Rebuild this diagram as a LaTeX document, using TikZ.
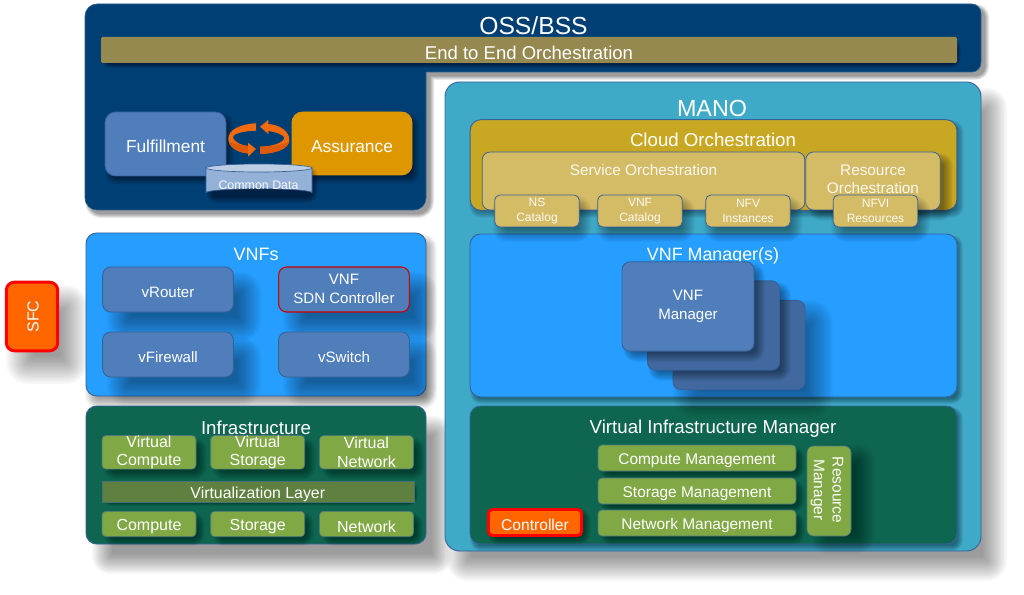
\documentclass[tikz,border=0pt]{standalone}
\usepackage{fontspec}
\setmainfont{Liberation Sans}
\usetikzlibrary{calc}
\definecolor{navy}{HTML}{003F73}
\definecolor{navyedge}{HTML}{2C5F8E}
\definecolor{olivebar}{HTML}{95894F}
\definecolor{steelcard}{HTML}{4F7EBB}
\definecolor{steeledge}{HTML}{38629A}
\definecolor{steelback}{HTML}{41699F}
\definecolor{amberbox}{HTML}{DF9700}
\definecolor{cylbody}{HTML}{94B1D7}
\definecolor{cyltop}{HTML}{BCCEE4}
\definecolor{manoteal}{HTML}{3FA9C8}
\definecolor{goldbox}{HTML}{C8A822}
\definecolor{sandbox}{HTML}{D4BB65}
\definecolor{skyblue}{HTML}{259EFF}
\definecolor{pine}{HTML}{0F6650}
\definecolor{leaf}{HTML}{80A844}
\definecolor{mossbar}{HTML}{5F8040}
\definecolor{hotorange}{HTML}{FF6600}
\definecolor{cycleorange}{HTML}{F26A10}
\definecolor{cycledark}{HTML}{DC5A0A}
\tikzset{
  x=0.75pt, y=-0.75pt,
  % fixed line boxes, so that text sits at the same height whatever its letters
  evenline/.style={execute at begin node={\rule[-0.15em]{0pt}{1em}},execute at end node={\rule[-0.15em]{0pt}{1em}}},
  lowline/.style={execute at begin node={\rule[-0.05em]{0pt}{1.1em}},execute at end node={\rule[-0.05em]{0pt}{1.1em}}},
  panel/.style={draw=#1, line width=0.7pt, rounded corners=8pt, inner sep=0pt, text=white, align=center, lowline},
  panel/.default=steeledge,
  title/.style={text=white, inner sep=0pt, align=center, evenline},
  alarmbox/.style={panel=red, fill=hotorange, line width=2.2pt, rounded corners=5pt}
}
% Blurred drop shadow: a stack of translucent rounded rectangles.
% #1..#4 box corners, #5 #6 offset, #7 blur radius
\newcommand{\softshadow}[7]{%
  \foreach \k in {0,...,15}{%
    \pgfmathsetmacro{\grow}{#7*(1-2*\k/15)}%
    \pgfmathsetmacro{\rad}{max(1,6+\grow*0.75)}%
    \fill[black, opacity=0.027, rounded corners=\rad pt]
      ({#1+#5-\grow},{#2+#6-\grow}) rectangle ({#3+#5+\grow},{#4+#6+\grow});
  }%
}
\newcommand{\OSSoutline}{(300,4) [rounded corners=7pt] -- (981,4) -- (981,72) [sharp corners] -- (426,72)
  [rounded corners=9pt] -- (426,210) -- (85,210) -- (85,4) -- cycle}
\begin{document}
\begin{tikzpicture}
\useasboundingbox (0,0) rectangle (1024,595);
\fill[white] (0,0) rectangle (1024,595);

% ---- OSS/BSS ----
\foreach \w in {6,4.5,3,1.5,0.3}{
  \begin{scope}[shift={(4,4)},transparency group,opacity=0.09]
    \fill[black] [draw=black,line width=\w pt,line join=round] \OSSoutline;
  \end{scope}
}
\fill[navy,draw=navyedge,line width=0.5pt] \OSSoutline;
\node[title,font=\fontsize{18.5}{18.5}\selectfont] (osstitle) at (533.5,26) {OSS/BSS};
\softshadow{101}{37}{957}{63}{2}{3}{2}
\node[fill=olivebar,minimum width=642pt,minimum height=19.5pt,inner sep=0pt,text=white,rounded corners=1pt,lowline,
  font=\fontsize{13.9}{13.9}\selectfont] (e2e) at (529,50) {End to End Orchestration};

\softshadow{105}{112}{226}{176}{4}{5}{4}
\softshadow{292}{112}{412}{175}{4}{5}{4}
\node[panel,fill=steelcard,minimum width=90.75pt,minimum height=48pt,font=\fontsize{13}{13}\selectfont] (fulfil) at (165.5,144) {Fulfillment};
\node[panel=amberbox,fill=amberbox,minimum width=90pt,minimum height=47.25pt,font=\fontsize{13}{13}\selectfont] (assure) at (352,143.5) {Assurance};

% Circular exchange arrows
\fill[cycleorange] (256,123.3) .. controls (240,124) and (228,130) .. (228.3,139)
  .. controls (228.5,147) and (237,152.5) .. (248,153.5) -- (248,156.7) -- (256,149) -- (248,142.7) -- (248,146)
  .. controls (240,145) and (233,141) .. (233,137) .. controls (234,133) and (245,131) .. (256,130.7) -- cycle;
\fill[cycleorange] (260,154) .. controls (276,153.5) and (289.3,149) .. (289.3,140)
  .. controls (289.3,131) and (280,125) .. (268.3,124) -- (268.3,120) -- (260,126.7) -- (268.3,134) -- (268.3,131)
  .. controls (276,132) and (284,135) .. (284.5,138) .. controls (283,143) and (272,146.5) .. (260,146.7) -- cycle;
\fill[cycledark] (229,142) .. controls (231,148) and (239,152.5) .. (248,153.5) -- (248,146) .. controls (240,145) and (234,143) .. (229,142) -- cycle;
\fill[cycledark] (260,154) .. controls (276,153.5) and (287,149) .. (289,142) .. controls (283,145) and (272,146.5) .. (260,146.7) -- cycle;

% Common Data cylinder
\softshadow{206}{166}{312}{197}{3}{3}{3}
\draw[fill=cylbody,draw=steeledge,line width=0.5pt] (206,168) -- (206,192.7) arc[start angle=180,end angle=360,x radius=53,y radius=4] -- (312,168) -- cycle;
\draw[fill=cyltop,draw=steeledge,line width=0.5pt] (259,168) ellipse[x radius=53,y radius=4];
\node[title,text=white!90!cylbody,font=\fontsize{9.3}{9.3}\selectfont] (cdata) at (258.5,185.5) {Common Data};

% ---- SFC ----
\softshadow{5}{281}{59}{352}{15}{18}{14}
\node[alarmbox,minimum width=38.5pt,minimum height=51.5pt,rounded corners=6pt] (sfcbox) at (32,316.5) {};
\node[title,rotate=90,font=\fontsize{12}{12}\selectfont] (sfc) at (33,316.5) {SFC};

% ---- VNFs ----
\softshadow{86}{233}{426}{396}{5}{7}{6}
\node[panel,fill=skyblue,minimum width=255pt,minimum height=122.25pt] (vnfs) at (256,314.5) {};
\node[title,font=\fontsize{13.5}{13.5}\selectfont] (vnfstitle) at (256,254.5) {VNFs};
\foreach \bx/\by in {103/267,279/267,103/332,279/332}{
  \softshadow{\bx}{\by}{\bx+130}{\by+45}{16}{17}{12}
}
\tikzset{card/.style={panel,fill=steelcard,rounded corners=6pt,minimum width=98pt,minimum height=33.75pt,font=\fontsize{11.3}{14}\selectfont}}
\node[card] (vrouter) at (168,289.5) {vRouter};
\node[card,draw=red!80!black,line width=0.8pt] (sdn) at (344,289.5) {VNF\\SDN Controller};
\node[card] (vfw) at (168,354.5) {vFirewall};
\node[card] (vsw) at (344,354.5) {vSwitch};

% ---- Infrastructure ----
\softshadow{86}{406}{426}{544}{16}{20}{10}
\node[panel,fill=pine,minimum width=255pt,minimum height=103.5pt] (infra) at (256,475) {};
\foreach \bx in {102,211,320}{
  \softshadow{\bx}{436}{\bx+94}{469}{6}{6}{5}
  \softshadow{\bx}{511}{\bx+94}{537}{5}{5}{4}
}
\tikzset{
  leafbox/.style={panel=steeledge!70!leaf,fill=leaf,line width=0.5pt,rounded corners=3pt,font=\fontsize{12}{14}\selectfont},
  vbox/.style={leafbox,minimum width=70.5pt,minimum height=25pt},
  pbox/.style={leafbox,minimum width=70.5pt,minimum height=19pt}
}
\node[vbox] (vcomp) at (149,452.3) {Virtual\\Compute};
\node[vbox] (vstor) at (257.7,452.3) {Virtual\\Storage};
\node[vbox] (vnet) at (366.5,452.3) {Virtual\\Network};
\node[title,font=\fontsize{14}{14}\selectfont] (infratitle) at (256,428) {Infrastructure};
\softshadow{102}{481}{414}{502}{2}{2}{2}
\node[fill=mossbar,draw=steeledge!60!mossbar,line width=0.4pt,minimum width=234pt,minimum height=16pt,inner sep=0pt,text=white,lowline,
  font=\fontsize{11.9}{11.9}\selectfont] (vlayer) at (257.8,491.7) {Virtualization Layer};
\node[pbox] (comp) at (149,524) {Compute};
\node[pbox] (stor) at (257.7,524) {Storage};
\node[pbox] (netw) at (366.5,524) {Network};

% ---- MANO ----
\softshadow{445}{82}{981}{551}{14}{18}{12}
\node[panel,fill=manoteal,minimum width=402pt,minimum height=351.75pt,rounded corners=11pt] (mano) at (713,316.5) {};
\node[title,font=\fontsize{17.5}{17.5}\selectfont] (manotitle) at (712,108.5) {MANO};

% Virtual Infrastructure Manager
\softshadow{470}{406}{957}{544}{3}{4}{3}
\node[panel,fill=pine,minimum width=365.25pt,minimum height=103.5pt] (vim) at (713.5,475) {};
\node[title,font=\fontsize{14}{14}\selectfont] (vimtitle) at (713,427.5) {Virtual Infrastructure Manager};
\softshadow{598}{445}{796}{471}{5}{5}{4}
\softshadow{598}{478}{796}{504}{5}{5}{4}
\softshadow{598}{510}{796}{536}{5}{5}{4}
\softshadow{807}{446}{851}{536}{14}{8}{10}
\softshadow{487}{508}{583}{537}{4}{4}{4}
\tikzset{mgmt/.style={leafbox,minimum width=148.5pt,minimum height=19.5pt,font=\fontsize{11.6}{11.6}\selectfont}}
\node[mgmt] (cmgmt) at (697,458) {Compute Management};
\node[mgmt] (smgmt) at (697,491) {Storage Management};
\node[mgmt] (nmgmt) at (697,523) {Network Management};
\node[leafbox,minimum width=33pt,minimum height=67.5pt,rounded corners=5pt] (rmbox) at (829,491) {};
\node[title,rotate=-90,font=\fontsize{11.6}{14}\selectfont] (rm) at (827,490) {Resource\\Manager};
\node[alarmbox,minimum width=69.8pt,minimum height=19.5pt,font=\fontsize{11.7}{11.7}\selectfont,rounded corners=3pt] (ctrl) at (535,522.5) {Controller};

% VNF Manager(s)
\softshadow{470}{234}{957}{397}{3}{4}{3}
\node[panel,fill=skyblue,minimum width=365.25pt,minimum height=122.25pt] (vnfm) at (713.5,315.5) {};
\node[title,font=\fontsize{13.4}{13.4}\selectfont] (vnfmtitle) at (713,255) {VNF Manager(s)};
\softshadow{673}{300}{805}{390}{14}{14}{14}
\tikzset{stackcard/.style={panel,fill=steelback,rounded corners=6pt,minimum width=99pt,minimum height=67pt}}
\node[stackcard] (stack3) at (739,345) {};
\softshadow{647}{281}{780}{370}{6}{6}{5}
\node[stackcard] (stack2) at (713.5,325.5) {};
\softshadow{622}{262}{754}{351}{6}{6}{5}
\node[stackcard,fill=steelcard,font=\fontsize{11.3}{14}\selectfont] (stack1) at (688,306.5) {VNF\\Manager};

% Cloud Orchestration
\softshadow{470}{120}{957}{210}{3}{4}{4}
\node[panel,fill=goldbox,minimum width=365pt,minimum height=68pt] (cloud) at (713.5,165) {};
\node[title,font=\fontsize{14}{14}\selectfont] (cloudtitle) at (713,139.5) {Cloud Orchestration};
\tikzset{innerbox/.style={panel,fill=sandbox,rounded corners=6pt,line width=0.6pt,minimum height=43.5pt}}
\softshadow{805}{152}{940}{210}{8}{6}{5}
\node[innerbox,minimum width=242pt] (service) at (643.5,181) {};
\node[innerbox,minimum width=101pt] (resource) at (873,181) {};
\node[title,text=white!90!sandbox,font=\fontsize{11.5}{11.5}\selectfont] (servicetitle) at (643.5,170.5) {Service Orchestration};
\node[title,text=white!90!sandbox,font=\fontsize{11.5}{14}\selectfont] (resourcetitle) at (873,180.5) {Resource\\Orchestration};
\foreach \bx in {494.5,597.7,705.5,833}{
  \softshadow{\bx}{195}{\bx+85}{227}{5}{8}{7}
}
\tikzset{catbox/.style={panel,fill=sandbox,line width=0.6pt,rounded corners=4pt,minimum width=63.5pt,minimum height=24pt,text=white!92!sandbox,font=\fontsize{9}{11}\selectfont}}
\node[catbox] (nscat) at (537,211) {NS\\Catalog};
\node[catbox] (vnfcat) at (640,211) {VNF\\Catalog};
\node[catbox] (nfvinst) at (748,211) {NFV\\Instances};
\node[catbox] (nfvires) at (875.5,211) {NFVI\\Resources};
\end{tikzpicture}
\end{document}
